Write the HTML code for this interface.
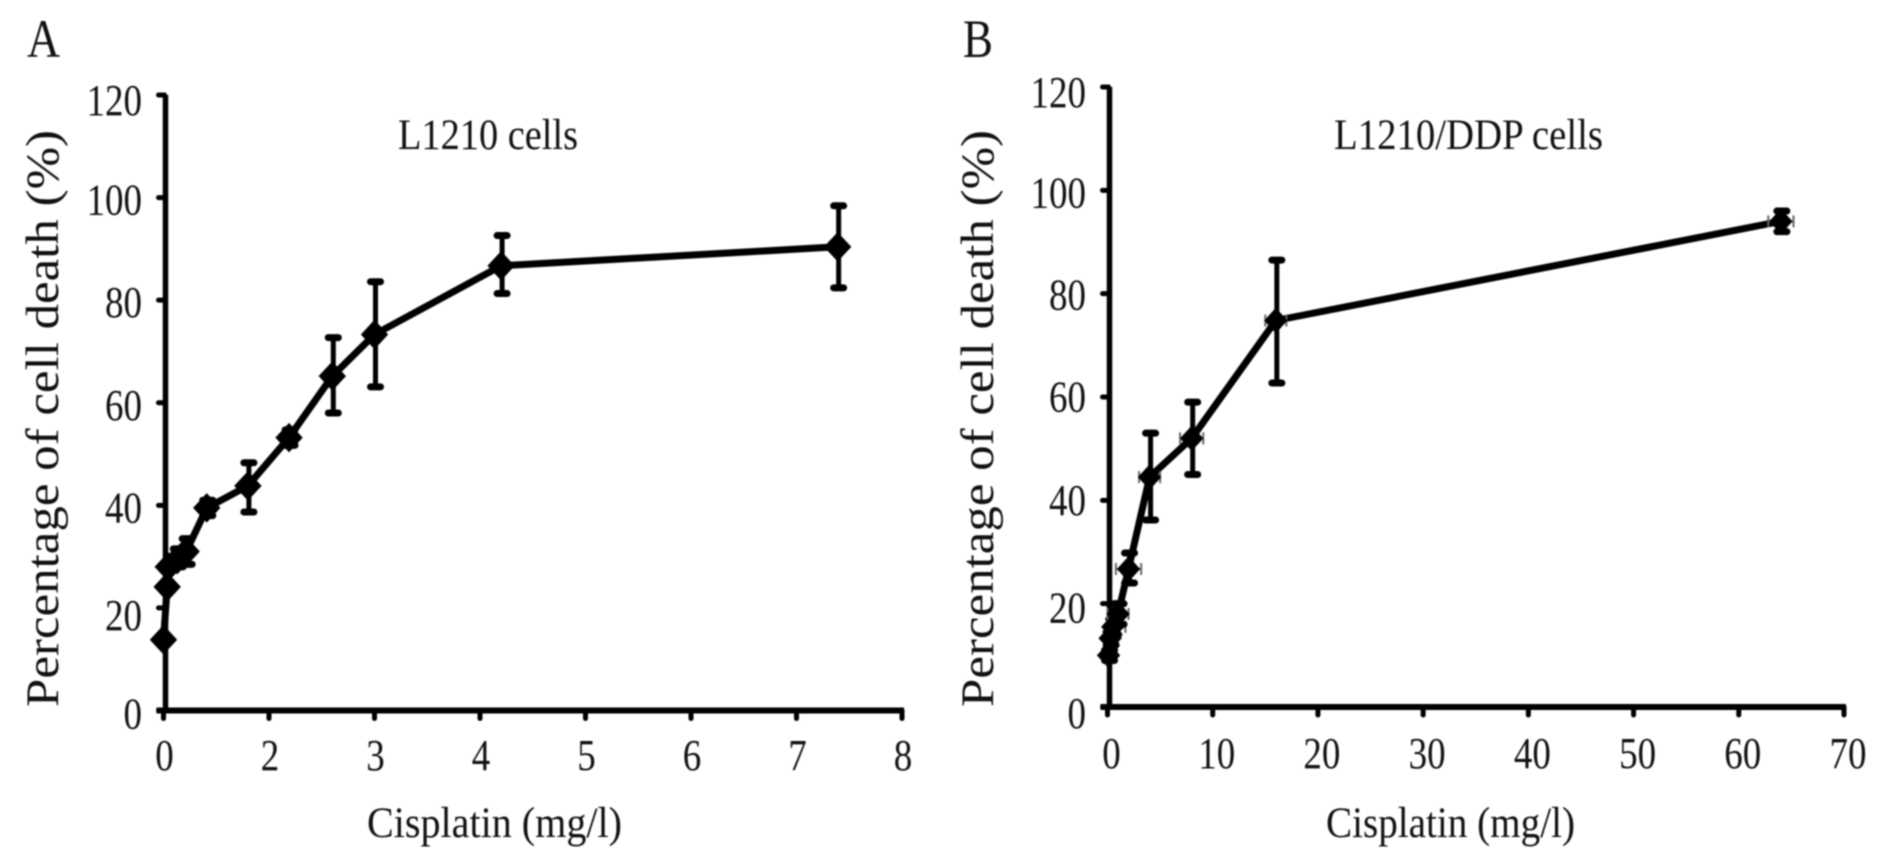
<!DOCTYPE html>
<html lang="en">
<head>
<meta charset="utf-8">
<title>Cisplatin dose response in L1210 and L1210/DDP cells</title>
<style>
html,body{margin:0;padding:0;background:#fff;width:1890px;height:866px;overflow:hidden}
svg{display:block;filter:blur(0.8px)}
text{font-family:"Liberation Serif",serif;fill:#111}
</style>
</head>
<body>
<svg id="figure" width="1890" height="866" viewBox="0 0 1890 866" xmlns="http://www.w3.org/2000/svg"></svg>
<script>
// Panel A data
const xTicksA = [0, 2, 3, 4, 5, 6, 7, 8];
const yTicksA = [0, 20, 40, 60, 80, 100, 120];
const doseA = [0, 0.07, 0.09, 0.26, 0.43, 0.82, 1.6, 2.19, 2.6, 3.0, 4.2, 7.39];
const deathA = [13.8, 24.1, 28, 29.4, 31, 39.5, 43.8, 53.2, 65.2, 73.3, 86.7, 90.4];
const upperA = [13.8, 24.1, 28, 31.5, 33.5, 41, 48.3, 54.7, 72.7, 83.6, 92.6, 98.4];
const lowerA = [13.8, 24.1, 28, 28, 28.5, 38, 38.7, 51.7, 58, 63.1, 81.3, 82.4];
const doseErrA = [0, 0, 0, 0, 0, 0, 0, 0, 0, 0, 0, 0];

// Panel B data
const xTicksB = [0, 10, 20, 30, 40, 50, 60, 70];
const yTicksB = [0, 20, 40, 60, 80, 100, 120];
const doseB = [0.1, 0.25, 0.5, 1, 2, 4, 8, 16, 64];
const deathB = [10, 13.3, 15.5, 18, 26.7, 44.5, 52, 74.8, 94];
const upperB = [11, 14.5, 17, 20, 29.8, 53, 59, 86.5, 96];
const lowerB = [9, 12, 14, 16, 24, 36.2, 45, 62.7, 92];
const doseErrB = [0.4, 0.6, 1.2, 1, 1.2, 1, 1.1, 1, 1.2];

const svg = document.getElementById('figure');
const NS = 'http://www.w3.org/2000/svg';

function make(tag, attrs, parent) {
  const el = document.createElementNS(NS, tag);
  for (const k in attrs) el.setAttribute(k, attrs[k]);
  parent.appendChild(el);
  return el;
}

function axisScale(ticks, p0, p1) {
  const step = (p1 - p0) / (ticks.length - 1);
  return function (v) {
    for (let i = 0; i < ticks.length - 1; i++) {
      if (v <= ticks[i + 1]) {
        return p0 + step * (i + (v - ticks[i]) / (ticks[i + 1] - ticks[i]));
      }
    }
    return p1;
  };
}

function labelOffsetA(t) {
  if (t === 120) return 20;
  if (t === 20) return 22;
  if (t === 0) return 18;
  return 17;
}

function labelOffsetB(t) {
  if (t === 120) return 20;
  if (t === 100) return 17;
  if (t === 80) return 16;
  if (t === 20) return 19;
  if (t === 0) return 21;
  return 14.5;
}

function drawPanel(p) {
  const sx = axisScale(p.xTicks, p.x0, p.x1);
  const sy = axisScale(p.yTicks, p.y0, p.y1);

  const g = make('g', {}, svg);
  
  

  const letter = make('text', { x: p.letterX, y: 57, 'font-size': 54, textLength: p.letterW, lengthAdjust: 'spacingAndGlyphs' }, g);
  letter.textContent = p.letter;
  
  

  const title = make('text', { x: p.titleX, y: 149, 'font-size': 43, textLength: p.titleW, lengthAdjust: 'spacingAndGlyphs' }, g);
  title.textContent = p.title;
  
  

  const yTitle = make('text', { transform: 'translate(' + p.yTitleX + ',' + p.yTitleBottom + ') rotate(-90)', x: 0, y: 0, 'font-size': 47, textLength: p.yTitleLen, lengthAdjust: 'spacingAndGlyphs' }, g);
  yTitle.textContent = 'Percentage of cell death (%)';
  
  

  const xTitle = make('text', { x: p.xTitleX, y: 837, 'font-size': 43, textLength: p.xTitleW, lengthAdjust: 'spacingAndGlyphs' }, g);
  xTitle.textContent = 'Cisplatin (mg/l)';
  
  

  const yAxis = make('line', { x1: p.x0 + 2, x2: p.x0 + 2, y1: sy(120), y2: p.y0, stroke: '#000', 'stroke-width': 5.5 }, g);
  
  

  const xAxis = make('line', { x1: p.x0 - 7, x2: p.x1 + 2, y1: p.y0, y2: p.y0, stroke: '#000', 'stroke-width': 6 }, g);
  
  

  p.yTicks.forEach(function (t) {
    const y = sy(t);
    const tick = make('line', { x1: p.x0 - 5, x2: p.x0 + 1, y1: y, y2: y, stroke: '#000', 'stroke-width': 5, 'stroke-linecap': 'round' }, g);
    
    
    const s = String(t);
    const label = make('text', { x: p.yLabelRight, y: y + p.yLabelOffset(t), 'font-size': 44, 'text-anchor': 'end', textLength: s.length * 18.5, lengthAdjust: 'spacingAndGlyphs' }, g);
    label.textContent = s;
    
    
  });

  p.xTicks.forEach(function (t) {
    const x = sx(t);
    const tick = make('line', { x1: x, x2: x, y1: p.y0, y2: p.y0 + 8, stroke: '#000', 'stroke-width': 5, 'stroke-linecap': 'round' }, g);
    
    
    const s = String(t);
    const label = make('text', { x: x + p.xLabelDx, y: p.xLabelY, 'font-size': 44, 'text-anchor': 'middle', textLength: s.length * 18.5, lengthAdjust: 'spacingAndGlyphs' }, g);
    label.textContent = s;
    
    
  });

  const pts = p.dose.map(function (d, i) { return sx(d).toFixed(1) + ',' + sy(p.death[i]).toFixed(1); }).join(' ');
  const line = make('polyline', { points: pts, fill: 'none', stroke: '#000', 'stroke-width': 7, 'stroke-linejoin': 'round' }, g);
  
  

  p.dose.forEach(function (d, i) {
    const cx = sx(d);
    const cy = sy(p.death[i]);

    if (p.doseErr[i] > 0) {
      const xl = sx(Math.max(d - p.doseErr[i], 0));
      const xr = sx(d + p.doseErr[i]);
      const hErr = make('path', { d: 'M' + xl + ' ' + cy + 'H' + xr + 'M' + xl + ' ' + (cy - 6) + 'V' + (cy + 6) + 'M' + xr + ' ' + (cy - 6) + 'V' + (cy + 6), fill: 'none', stroke: '#666', 'stroke-width': 2 }, g);
      
      
    }

    const yu = sy(p.upper[i]);
    const yl = sy(p.lower[i]);
    if (yl - yu > 1) {
      const ex = cx + p.errDx;
      const vErr = make('path', { d: 'M' + ex + ' ' + yu + 'V' + yl, fill: 'none', stroke: '#000', 'stroke-width': 5 }, g);
      
      
      const capTop = make('line', { x1: ex - 5, x2: ex + 5, y1: yu, y2: yu, stroke: '#000', 'stroke-width': 7, 'stroke-linecap': 'round' }, g);
      
      
      const capBottom = make('line', { x1: ex - 5, x2: ex + 5, y1: yl, y2: yl, stroke: '#000', 'stroke-width': 7, 'stroke-linecap': 'round' }, g);
      
      
    }

    const w = p.markerW;
    const h = p.markerH;
    const marker = make('polygon', { points: (cx - w) + ',' + cy + ' ' + cx + ',' + (cy - h) + ' ' + (cx + w) + ',' + cy + ' ' + cx + ',' + (cy + h), fill: '#000', stroke: '#000', 'stroke-width': 1 }, g);
    
    
  });
}

drawPanel({
  id: 'panel-a', letter: 'A', letterX: 27, letterW: 33,
  title: 'L1210 cells', titleX: 398, titleW: 180,
  xTicks: xTicksA, yTicks: yTicksA, dose: doseA, death: deathA, upper: upperA, lower: lowerA, doseErr: doseErrA,
  x0: 163.5, x1: 902, y0: 710.5, y1: 95,
  yLabelRight: 142, yLabelOffset: labelOffsetA, xLabelDx: 1, xLabelY: 770,
  yTitleX: 58, yTitleBottom: 707, yTitleLen: 577,
  xTitleX: 367, xTitleW: 255,
  errDx: 1, markerW: 13, markerH: 14
});

drawPanel({
  id: 'panel-b', letter: 'B', letterX: 963, letterW: 30,
  title: 'L1210/DDP cells', titleX: 1334, titleW: 269,
  xTicks: xTicksB, yTicks: yTicksB, dose: doseB, death: deathB, upper: upperB, lower: lowerB, doseErr: doseErrB,
  x0: 1107.5, x1: 1844, y0: 707, y1: 87,
  yLabelRight: 1086, yLabelOffset: labelOffsetB, xLabelDx: 4, xLabelY: 768,
  yTitleX: 993, yTitleBottom: 707, yTitleLen: 577,
  xTitleX: 1326, xTitleW: 249,
  errDx: 1, markerW: 11, markerH: 12
});
</script>
</body>
</html>
